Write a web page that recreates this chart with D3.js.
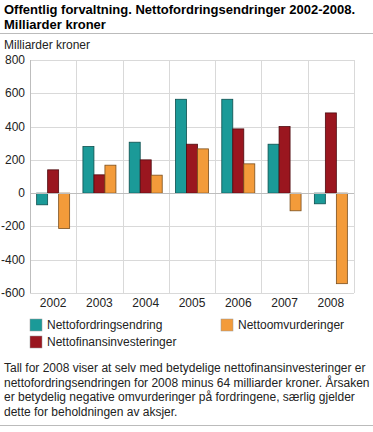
<!DOCTYPE html>
<html>
<head>
<meta charset="utf-8">
<script src="https://cdn.jsdelivr.net/npm/d3@7"></script>
<style>
body { margin: 0; background: #fff; font-family: "Liberation Sans", Arial, sans-serif; }
</style>
</head>
<body>
<div id="chart"></div>
<script>
// data
var years = ["2002", "2003", "2004", "2005", "2006", "2007", "2008"];
var seriesNames = ["Nettofordringsendring", "Nettofinansinvesteringer", "Nettoomvurderinger"];
var nettofordringsendring = [-70, 280, 306, 564, 564, 294, -64];
var nettofinansinvesteringer = [140, 110, 200, 294, 386, 400, 482];
var nettoomvurderinger = [-212, 168, 108, 266, 176, -106, -544];
var yTicks = [-600, -400, -200, 0, 200, 400, 600, 800];
var colors = ["#1b9a98", "#9a161f", "#f39b3a"];
var strokes = ["#0d4f4e", "#4e0b10", "#7a4e1d"];

var seriesValues = [nettofordringsendring, nettofinansinvesteringer, nettoomvurderinger];
var rows = [];
years.forEach(function(y, i) {
    seriesValues.forEach(function(vals, s) {
        rows.push({year: y, series: s, value: vals[i]});
    });
});

var W = 373, H = 432;
var svg = d3.select("#chart").append("svg")
    .attr("width", W).attr("height", H)
    .style("font-family", "'Liberation Sans', Arial, sans-serif");

// title
svg.append("text").attr("x", 4).attr("y", 14)
    .style("font-size", "13px").style("font-weight", "bold").style("fill", "#000")
    .text("Offentlig forvaltning. Nettofordringsendringer 2002-2008.");
svg.append("text").attr("x", 4).attr("y", 29)
    .style("font-size", "13px").style("font-weight", "bold").style("fill", "#000")
    .text("Milliarder kroner");
svg.append("line").attr("x1", 0).attr("x2", W).attr("y1", 33.5).attr("y2", 33.5)
    .style("stroke", "#bbb");

svg.append("text").attr("x", 4).attr("y", 49)
    .style("font-size", "12px").style("fill", "#222")
    .text("Milliarder kroner");

var plot = {left: 30, right: 354, top: 60, bottom: 293};

var x = d3.scaleBand().domain(years).range([plot.left, plot.right]);
var xs = d3.scaleBand().domain([0, 1, 2]).range([0, 33]);
var y = d3.scaleLinear().domain([-600, 800]).range([plot.bottom, plot.top]);

var g = svg.append("g");

// horizontal grid
g.selectAll(".hgrid").data(yTicks).enter().append("line")
    .attr("x1", plot.left).attr("x2", plot.right)
    .attr("y1", function(d) { return Math.round(y(d)) + 0.5; })
    .attr("y2", function(d) { return Math.round(y(d)) + 0.5; })
    .style("stroke", "#d9d9d9").style("stroke-width", 1);

// vertical grid at category boundaries
var bounds = years.map(function(d) { return x(d); }).concat([plot.right]);
g.selectAll(".vgrid").data(bounds).enter().append("line")
    .attr("x1", function(d) { return Math.round(d) + 0.5; })
    .attr("x2", function(d) { return Math.round(d) + 0.5; })
    .attr("y1", plot.top).attr("y2", plot.bottom)
    .style("stroke", function(d, i) { return i == 0 ? "#bdbdbd" : "#d9d9d9"; })
    .style("stroke-width", 1);

// y tick labels
g.selectAll(".ylab").data(yTicks).enter().append("text")
    .attr("x", 25).attr("y", function(d) { return y(d) + 4; })
    .attr("text-anchor", "end")
    .style("font-size", "12px").style("fill", "#222")
    .text(function(d) { return d; });

// bars
var off = (x.bandwidth() - 33) / 2;
g.selectAll("rect.bar").data(rows).enter().append("rect")
    .attr("class", "bar")
    .attr("x", function(d) { return x(d.year) + off + xs(d.series); })
    .attr("y", function(d) { return y(Math.max(0, d.value)); })
    .attr("width", xs.bandwidth())
    .attr("height", function(d) { return Math.abs(y(d.value) - y(0)); })
    .style("fill", function(d) { return colors[d.series]; })
    .style("stroke", function(d) { return strokes[d.series]; })
    .style("stroke-width", 0.8);

// zero line
g.append("line").attr("x1", plot.left).attr("x2", plot.right)
    .attr("y1", Math.round(y(0)) + 0.5).attr("y2", Math.round(y(0)) + 0.5)
    .style("stroke", "#bdbdbd");

// x labels
g.selectAll(".xlab").data(years).enter().append("text")
    .attr("x", function(d) { return x(d) + x.bandwidth() / 2; })
    .attr("y", 307)
    .attr("text-anchor", "middle")
    .style("font-size", "12px").style("fill", "#222")
    .text(function(d) { return d; });

// legend
var legPos = [[30, 319], [30, 336], [221, 319]];
var leg = svg.selectAll(".leg").data(seriesNames).enter().append("g")
    .attr("transform", function(d, i) { return "translate(" + legPos[i][0] + "," + legPos[i][1] + ")"; });
leg.append("rect").attr("width", 12).attr("height", 12)
    .style("fill", function(d, i) { return colors[i]; })
    .style("stroke", "#999").style("stroke-width", 0.5);
leg.append("text").attr("x", 17).attr("y", 10)
    .style("font-size", "12px").style("fill", "#222")
    .text(function(d) { return d; });

// footnote
var note = [
    "Tall for 2008 viser at selv med betydelige nettofinansinvesteringer er",
    "nettofordringsendringen for 2008 minus 64 milliarder kroner. Årsaken",
    "er betydelig negative omvurderinger på fordringene, særlig gjelder",
    "dette for beholdningen av aksjer."
];
svg.selectAll(".note").data(note).enter().append("text")
    .attr("x", 4).attr("y", function(d, i) { return 372 + i * 14.5; })
    .style("font-size", "12px").style("fill", "#222")
    .text(function(d) { return d; });
svg.append("line").attr("x1", 0).attr("x2", W).attr("y1", 425.5).attr("y2", 425.5)
    .style("stroke", "#bbb");
</script>
</body>
</html>
